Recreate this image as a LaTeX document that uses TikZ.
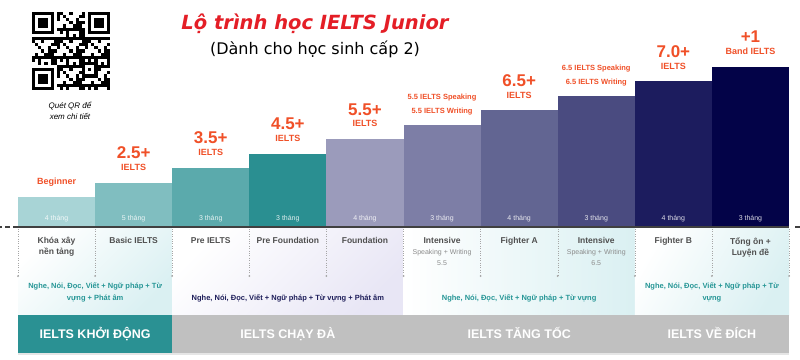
\documentclass[tikz,border=0pt]{standalone}
\usepackage{fontspec}
\setmainfont{Liberation Sans}
\newfontfamily\headfont{DejaVu Sans}
\usetikzlibrary{positioning,shadows}

\definecolor{bc1}{RGB}{168,212,214}
\definecolor{bc2}{RGB}{128,190,192}
\definecolor{bc3}{RGB}{91,170,172}
\definecolor{bc4}{RGB}{42,143,145}
\definecolor{bc5}{RGB}{155,155,187}
\definecolor{bc6}{RGB}{125,126,166}
\definecolor{bc7}{RGB}{98,101,146}
\definecolor{bc8}{RGB}{74,75,128}
\definecolor{bc9}{RGB}{28,28,94}
\definecolor{bc10}{RGB}{3,3,72}
\definecolor{lblred}{RGB}{240,80,40}
\definecolor{ttlred}{RGB}{228,30,38}
\definecolor{crsgray}{RGB}{80,80,80}
\definecolor{subgray}{RGB}{140,140,140}
\definecolor{skteal}{RGB}{38,150,150}
\definecolor{sknavy}{RGB}{30,30,90}
\definecolor{stgteal}{RGB}{42,145,147}
\definecolor{stggray}{RGB}{192,192,192}
\definecolor{bgcyan}{RGB}{218,240,242}
\definecolor{bglav}{RGB}{232,230,245}

\tikzset{bar/.style={rectangle,inner sep=0pt,outer sep=0pt,minimum width=77.1pt,anchor=south west}}
\tikzset{month/.style={font=\fontsize{7}{8}\selectfont,text=white,text opacity=.85,inner sep=1pt}}
\tikzset{score/.style={font=\bfseries\fontsize{17}{17}\selectfont,text=lblred,inner sep=1pt}}
\tikzset{lvl/.style={font=\bfseries\fontsize{9}{9}\selectfont,text=lblred,inner sep=1pt}}
\tikzset{goal/.style={font=\bfseries\fontsize{7.5}{7.5}\selectfont,text=lblred,inner sep=1pt}}
\tikzset{course/.style={font=\bfseries\fontsize{8.5}{11}\selectfont,text=crsgray,align=center,anchor=north,inner sep=1pt}}
\tikzset{skill/.style={font=\bfseries\fontsize{7.5}{12}\selectfont,align=center,inner sep=1pt}}
\tikzset{stage/.style={rectangle,font=\bfseries\fontsize{12.5}{12.5}\selectfont,text=white,minimum height=38pt,text height=9pt,text depth=0pt,inner sep=0pt,outer sep=0pt,anchor=north west,drop shadow={shadow xshift=0pt,shadow yshift=-2pt,opacity=.2}}}
\tikzset{tick/.style={dotted,thin,gray!70}}
\newcommand{\sub}[1]{{\mdseries\fontsize{7}{10}\selectfont\color{subgray}#1}}

\begin{document}
\begin{tikzpicture}[x=1pt,y=-1pt]
\useasboundingbox (0,0) rectangle (800,359);
\fill[white] (0,0) rectangle (800,359);

% title
\node[font=\headfont\bfseries\itshape\fontsize{19.5}{20}\selectfont,text=ttlred] (title) at (315,24) {Lộ trình học IELTS Junior};
\node[font=\headfont\fontsize{16}{17}\selectfont,below=0pt of title] (subtitle) {(Dành cho học sinh cấp 2)};

% qr code
\begin{scope}[shift={(32,12)},x=3.12pt,y=-3.12pt]
  \foreach \i in {0,...,24}{
    \foreach \j in {0,...,24}{
      \pgfmathtruncatemacro\q{mod(\i*\i*3+\j*\j*5+\i*\j*7+\i+2*\j,9)}
      \pgfmathtruncatemacro\fz{(\i<8 && \j<8) || (\i>16 && \j<8) || (\i<8 && \j>16)}
      \ifnum\fz=0 \ifnum\q<4 \fill (\i,\j) rectangle ++(1,1); \fi\fi
    }}
  \foreach \fx/\fy in {0/0,18/0,0/18}{
    \fill (\fx,\fy) rectangle ++(7,7);
    \fill[white] (\fx+1,\fy+1) rectangle ++(5,5);
    \fill (\fx+2,\fy+2) rectangle ++(3,3);
  }
  \fill (16,16) rectangle ++(5,5);
  \fill[white] (17,17) rectangle ++(3,3);
  \fill (18,18) rectangle ++(1,1);
\end{scope}
\node[font=\itshape\fontsize{8}{11}\selectfont,align=center,anchor=north] (qrnote) at (70,99) {Quét QR để\\xem chi tiết};

% backgrounds below the bars
\shade[top color=white,bottom color=bgcyan,shading angle=45] (18,228) rectangle (172.2,315);
\shade[top color=white,bottom color=bglav,shading angle=45] (172.2,228) rectangle (403.5,315);
\shade[left color=white,right color=bgcyan] (403.5,228) rectangle (634.8,315);
\shade[top color=white,bottom color=bgcyan,shading angle=60] (634.8,228) rectangle (789,315);

% bars
\foreach \k/\m in {1/4,2/5,3/3,4/3,5/4,6/3,7/4,8/3,9/4,10/3}{
  \pgfmathsetmacro\h{30+14.44*(\k-1)}
  \node[bar,fill=bc\k,minimum height=\h pt] (b\k) at ({18+77.1*(\k-1)},227) {};
  \node[month,above=4pt of b\k.south] (m\k) {\m\ tháng};
}
\draw[line width=1.2pt,black!75] (b1.south west) -- (b10.south east);
\draw[line width=1.2pt,black!75,dash pattern=on 5pt off 3pt] (b1.south west) -- ++(-18,0);
\draw[line width=1.2pt,black!75] (b10.south east) ++(6,0) -- ++(5,0);

% dotted ticks
\foreach \k in {0,...,10}{
  \draw[tick] ({18+77.1*\k},229) -- ++(0,47);
  \fill[gray!70] ({18+77.1*\k},276) circle (1pt);
}

% goals above bars
\node[goal,above=9pt of b1,font=\bfseries\fontsize{9}{9}\selectfont] (g1) {Beginner};
\node[lvl,above=11pt of b2] (i2) {IELTS};
\node[score,above=3pt of i2] (s2) {2.5+};
\node[lvl,above=11pt of b3] (i3) {IELTS};
\node[score,above=3pt of i3] (s3) {3.5+};
\node[lvl,above=11pt of b4] (i4) {IELTS};
\node[score,above=3pt of i4] (s4) {4.5+};
\node[lvl,above=11pt of b5] (i5) {IELTS};
\node[score,above=3pt of i5] (s5) {5.5+};
\node[goal,above=8.5pt of b6] (w6) {5.5 IELTS Writing};
\node[goal,above=5pt of w6] (p6) {5.5 IELTS Speaking};
\node[lvl,above=11pt of b7] (i7) {IELTS};
\node[score,above=3pt of i7] (s7) {6.5+};
\node[goal,above=8.5pt of b8] (w8) {6.5 IELTS Writing};
\node[goal,above=5pt of w8] (p8) {6.5 IELTS Speaking};
\node[lvl,above=11pt of b9] (i9) {IELTS};
\node[score,above=3pt of i9] (s9) {7.0+};
\node[lvl,above=11pt of b10] (i10) {Band IELTS};
\node[score,above=3pt of i10] (s10) {+1};

% course names
\node[course] (c1) at (56.55,236) {Khóa xây\\nền tảng};
\node[course] (c2) at (133.65,236) {Basic IELTS};
\node[course] (c3) at (210.75,236) {Pre IELTS};
\node[course] (c4) at (287.85,236) {Pre Foundation};
\node[course] (c5) at (364.95,236) {Foundation};
\node[course] (c6) at (442.05,236) {Intensive\\\sub{Speaking + Writing}\\\sub{5.5}};
\node[course] (c7) at (519.15,236) {Fighter A};
\node[course] (c8) at (596.25,236) {Intensive\\\sub{Speaking + Writing}\\\sub{6.5}};
\node[course] (c9) at (673.35,236) {Fighter B};
\node[course] (c10) at (750.45,236) {Tổng ôn +\\Luyện đề};

% skills
\node[skill,text=skteal] (k1) at (95.1,292) {Nghe, Nói, Đọc, Viết + Ngữ pháp + Từ\\vựng + Phát âm};
\node[skill,text=sknavy] (k2) at (287.85,298) {Nghe, Nói, Đọc, Viết + Ngữ pháp + Từ vựng + Phát âm};
\node[skill,text=skteal] (k3) at (519.15,298) {Nghe, Nói, Đọc, Viết + Ngữ pháp + Từ vựng};
\node[skill,text=skteal] (k4) at (711.9,292) {Nghe, Nói, Đọc, Viết + Ngữ pháp + Từ\\vựng};

% stages
\node[stage,fill=stgteal,minimum width=154.2pt] (st1) at (18,315) {IELTS KHỞI ĐỘNG};
\node[stage,fill=stggray,minimum width=231.3pt] (st2) at (172.2,315) {IELTS CHẠY ĐÀ};
\node[stage,fill=stggray,minimum width=231.3pt] (st3) at (403.5,315) {IELTS TĂNG TỐC};
\node[stage,fill=stggray,minimum width=154.2pt] (st4) at (634.8,315) {IELTS VỀ ĐÍCH};
\end{tikzpicture}
\end{document}
